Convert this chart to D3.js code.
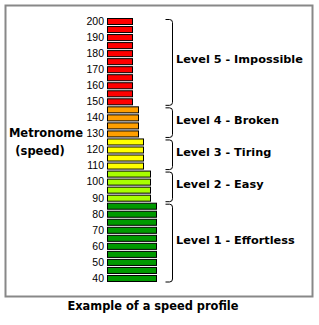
<!DOCTYPE html>
<html><head><meta charset="utf-8">
<script src="https://cdn.jsdelivr.net/npm/d3@7"></script>
<style>html,body{margin:0;padding:0;background:#fff;}svg{display:block;}</style>
</head><body>
<svg id="chart" width="319" height="325"></svg>
<script>
// ---- data ----
const tempos = [200,195,190,185,180,175,170,165,160,155,150,145,140,135,130,125,120,115,110,105,100,95,90,85,80,75,70,65,60,55,50,45,40];
const tickLabels = [200,190,180,170,160,150,140,130,120,110,100,90,80,70,60,50,40];
const levelNames = ["Level 5 - Impossible","Level 4 - Broken","Level 3 - Tiring","Level 2 - Easy","Level 1 - Effortless"];
const levelMin = [150,130,110,90,40];
const levelMax = [200,145,125,105,85];
const levelRelative = [5.2,6.4,7.4,8.8,10];
const levelColors = ["#ff0000","#ff9f00","#ffff00","#a8ff00","#009a00"];
const axisTitle = ["Metronome","(speed)"];
const chartTitle = "Example of a speed profile";

const svg = d3.select("#chart");
const labelFont = "'DejaVu Sans', Verdana, sans-serif";

svg.append("rect").attr("x",5.5).attr("y",5.5).attr("width",307).attr("height",291)
  .attr("fill","#fff").attr("stroke","#888").attr("stroke-width",2);

const y = d3.scaleBand().domain(tempos).range([18, 18 + tempos.length*8]).paddingInner(0.125).paddingOuter(0);
const x = d3.scaleLinear().domain([0,10]).range([107,157]);
const levelOf = t => levelMin.findIndex((m,i)=> t>=m && t<=levelMax[i]);

svg.append("g").selectAll("rect").data(tempos).join("rect")
  .attr("x", x(0)+0.5)
  .attr("y", d => y(d)+0.5)
  .attr("width", d => x(levelRelative[levelOf(d)]) - x(0) - 1)
  .attr("height", y.bandwidth()-1)
  .attr("fill", d => levelColors[levelOf(d)])
  .attr("stroke","#000").attr("stroke-width",1);

const axis = d3.axisLeft(y).tickValues(tickLabels).tickSize(0).tickPadding(3);
const ag = svg.append("g").attr("transform",`translate(${x(0)},0)`).call(axis);
ag.select(".domain").remove();
ag.selectAll("text").attr("font-family","'Liberation Sans', Arial, sans-serif").attr("font-size",10.5).attr("fill","#000");

// braces
const lv = svg.append("g");
levelNames.forEach((name,i)=>{
  const yTop = y(levelMax[i]) + 1.5;
  const yBot = y(levelMin[i]) + y.bandwidth();
  const xl = 165.5, xr = 172.5, r = 3;
  lv.append("path")
    .attr("d", `M${xl},${yTop} H${xr-r} Q${xr},${yTop} ${xr},${yTop+r} V${yBot-r} Q${xr},${yBot} ${xr-r},${yBot} H${xl}`)
    .attr("fill","none").attr("stroke","#000").attr("stroke-width",1);
  lv.append("text").attr("x",176).attr("y",(yTop+yBot)/2 - 3).attr("dy","0.35em")
    .attr("font-family",labelFont).attr("font-weight","bold").attr("font-size",11.3)
    .text(name);
});

svg.append("text").attr("x",46).attr("y",133).attr("dy","0.35em").attr("text-anchor","middle")
  .attr("font-family",labelFont).attr("font-weight","bold").attr("font-size",11.5).text(axisTitle[0]);
svg.append("text").attr("x",40).attr("y",151).attr("dy","0.35em").attr("text-anchor","middle")
  .attr("font-family",labelFont).attr("font-weight","bold").attr("font-size",11.5).text(axisTitle[1]);

svg.append("text").attr("x",153).attr("y",306).attr("dy","0.35em").attr("text-anchor","middle")
  .attr("font-family",labelFont).attr("font-weight","bold").attr("font-size",11.4).text(chartTitle);
</script>
</body></html>
